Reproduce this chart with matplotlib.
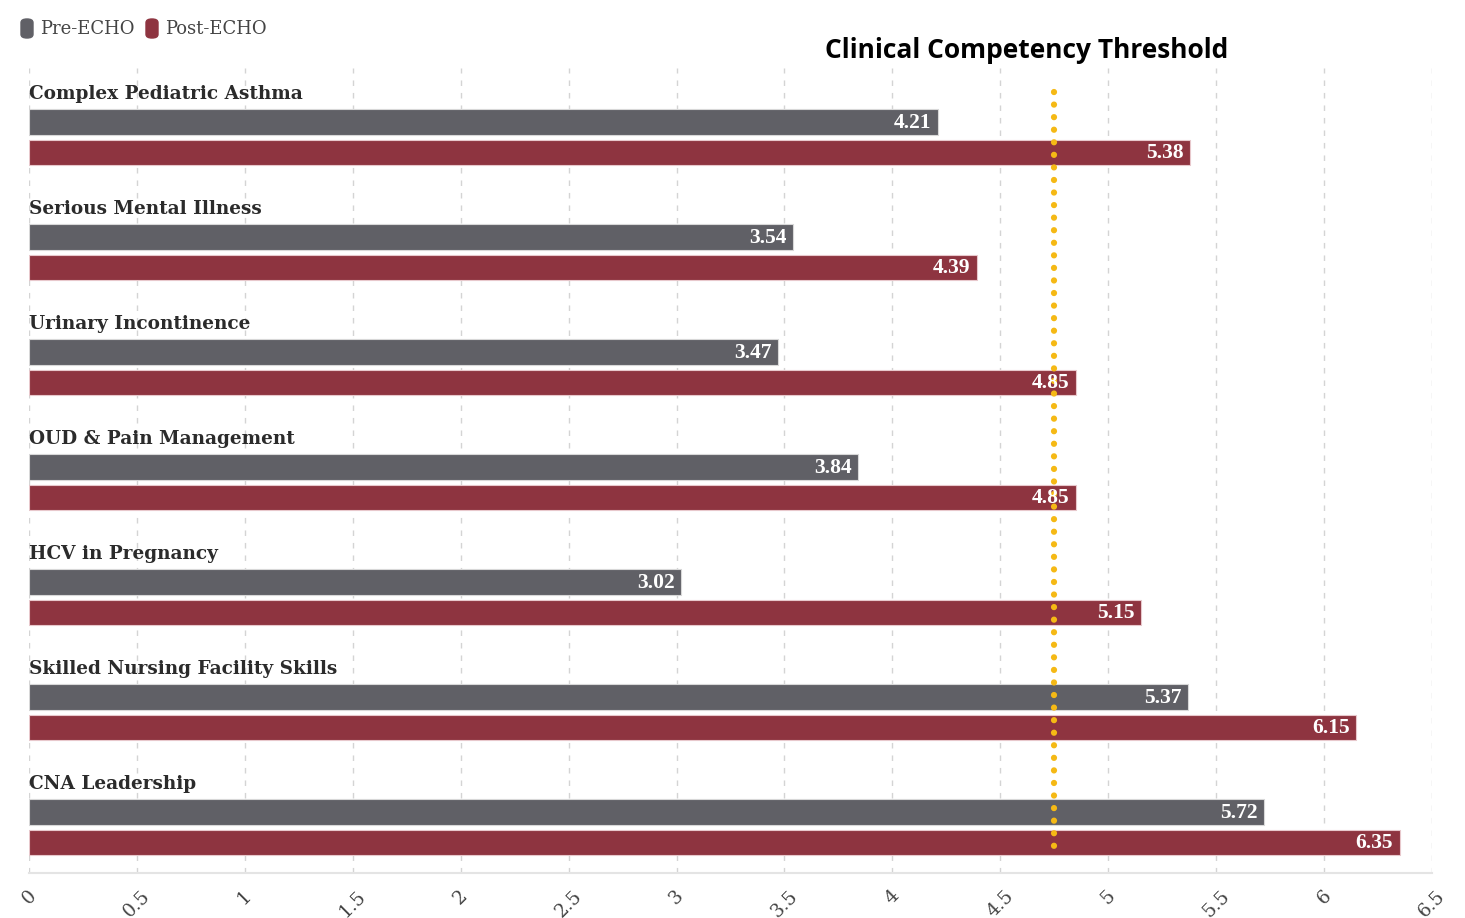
import numpy as np
import matplotlib.pyplot as plt
from matplotlib.patches import FancyBboxPatch

# data
categories = ['Complex Pediatric Asthma', 'Serious Mental Illness', 'Urinary Incontinence',
              'OUD & Pain Management', 'HCV in Pregnancy', 'Skilled Nursing Facility Skills',
              'CNA Leadership']
pre_echo = [4.21, 3.54, 3.47, 3.84, 3.02, 5.37, 5.72]
post_echo = [5.38, 4.39, 4.85, 4.85, 5.15, 6.15, 6.35]
threshold = 4.75
xticks = np.arange(0, 6.51, 0.5)
xtick_labels = ['0', '0.5', '1', '1.5', '2', '2.5', '3', '3.5', '4', '4.5', '5', '5.5', '6', '6.5']

PRE_C = '#606066'
POST_C = '#8e3440'
SERIF = ['DejaVu Serif']
VAL = ['Liberation Serif']

fig = plt.figure(figsize=(14.65, 9.18), dpi=100)
ax = fig.add_axes([29/1465, 1 - 873/918, (1432-29)/1465, (873-68)/918])

n = len(categories)
ypos = np.arange(n)
bh = 0.22
ax.barh(ypos + 0.47, pre_echo, height=bh, color=PRE_C, edgecolor='#d8d8d8', linewidth=0.8, zorder=2)
ax.barh(ypos + 0.735, post_echo, height=bh, color=POST_C, edgecolor='#e8c8cc', linewidth=0.8, zorder=2)

for i in range(n):
    ax.text(0, i + 0.23, categories[i], family=SERIF, fontweight='bold', fontsize=13.3,
            color='#2b2b2b', va='center', ha='left')
    ax.text(pre_echo[i] - 0.03, i + 0.475, f'{pre_echo[i]:.2f}', family=VAL, fontsize=15.5,
            fontweight='bold', color='white', va='center', ha='right', zorder=4)
    ax.text(post_echo[i] - 0.03, i + 0.74, f'{post_echo[i]:.2f}', family=VAL, fontsize=15.5,
            fontweight='bold', color='white', va='center', ha='right', zorder=4)

ax.plot([threshold, threshold], [0.21, 6.87], color='#f5b915', linewidth=4.5,
        linestyle=(0, (0.01, 2.0)), dash_capstyle='round', zorder=3)

ax.set_xlim(0, 6.5)
ax.set_ylim(7, 0)
ax.set_xticks(xticks)
ax.set_xticklabels(xtick_labels, rotation=45, ha='center', va='top', family=SERIF,
                   fontsize=13.5, color='#444444')
ax.tick_params(axis='x', length=0, pad=10)
ax.set_yticks([])
ax.grid(axis='x', color='#d4d4d4', linestyle=(0, (4, 5)), linewidth=1, zorder=0)
for s in ['top', 'right', 'left']:
    ax.spines[s].set_visible(False)
ax.spines['bottom'].set_color('#e4e4e4')
ax.spines['bottom'].set_linewidth(1.5)

fig.text(1027/1465, 1 - 50/918, 'Clinical Competency Threshold', family=['Open Sans'],
         fontweight='bold', fontsize=19, color='black', ha='center', va='center')

# legend
for x0, c, lab in [(21, PRE_C, 'Pre-ECHO'), (146, POST_C, 'Post-ECHO')]:
    fig.patches.append(FancyBboxPatch((x0/1465, 1 - 38/918), 12/1465, 19/918,
                                      boxstyle='round,pad=0,rounding_size=0.004',
                                      transform=fig.transFigure, color=c))
    fig.text((x0 + 19)/1465, 1 - 29/918, lab, family=SERIF, fontsize=13,
             color='#444444', ha='left', va='center')

fig.savefig('out.png', dpi=100, facecolor='white')
